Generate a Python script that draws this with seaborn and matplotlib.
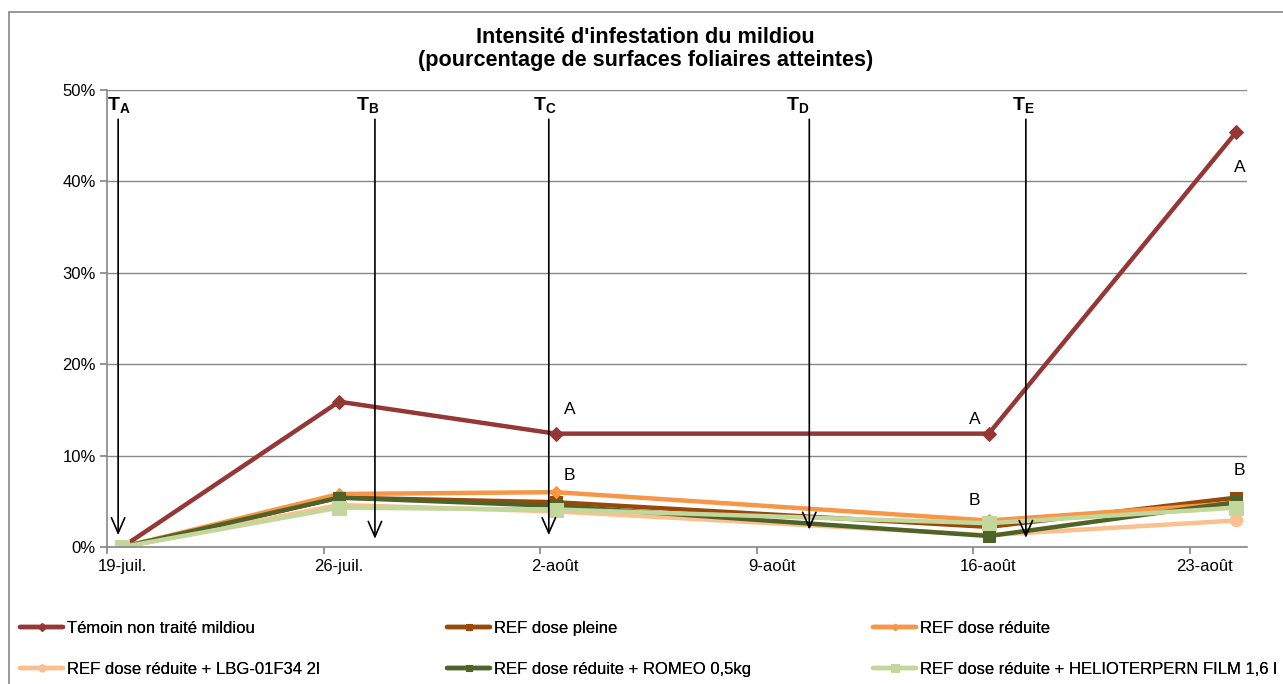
import pandas as pd
import matplotlib.pyplot as plt
import seaborn as sns
from matplotlib.patches import Rectangle
import matplotlib.transforms as mtransforms

sns.set_theme(style="white")
plt.rcParams['font.family'] = ['Liberation Sans', 'DejaVu Sans']
plt.rcParams['text.color'] = 'black'
plt.rcParams['xtick.color'] = 'black'
plt.rcParams['ytick.color'] = 'black'
plt.rcParams['mathtext.fontset'] = 'custom'
plt.rcParams['mathtext.rm'] = 'Liberation Sans'
plt.rcParams['mathtext.bf'] = 'Liberation Sans:bold'

# jours depuis le 19-juil. (Excel place les points au milieu du jour)
jours = [0.5, 7.5, 14.5, 28.5, 36.5]
tick_pos = [0, 7, 14, 21, 28, 35]
tick_labels = ["19-juil.", "26-juil.", "2-août", "9-août", "16-août", "23-août"]

temoin = [0.0, 15.9, 12.4, 12.4, 45.4]
ref_pleine = [0.0, 5.4, 4.9, 2.2, 5.4]
ref_reduite = [0.0, 5.8, 6.0, 2.9, 4.8]
ref_lbg = [0.0, 4.6, 3.9, 1.3, 2.9]
ref_romeo = [0.0, 5.4, 4.5, 1.2, 4.9]
ref_helio = [0.0, 4.3, 4.1, 2.6, 4.3]

noms = ["Témoin non traité mildiou", "REF dose pleine", "REF dose réduite",
        "REF dose réduite + LBG-01F34 2l", "REF dose réduite + ROMEO 0,5kg",
        "REF dose réduite + HELIOTERPERN FILM 1,6 l"]
series = [temoin, ref_pleine, ref_reduite, ref_lbg, ref_romeo, ref_helio]
couleurs = ["#953735", "#984807", "#F79646", "#FAC090", "#4F6228", "#C3D69B"]
marqueurs = ["D", "s", "D", "o", "s", "s"]
tailles = [7, 8, 6, 9, 9, 10]

# traitements (fleches)
traitements = ["A", "B", "C", "D", "E"]
trait_x = [0.36, 8.66, 14.28, 22.7, 29.7]
trait_lab_x = [0.39, 8.43, 14.15, 22.33, 29.63]
trait_fin = [1.3, 0.9, 1.3, 1.9, 1.0]

# lettres statistiques
lettres = ["A", "B", "A", "B", "A", "B"]
lettres_xy = [(14.96, 15.0), (14.96, 7.8), (28.05, 13.9), (28.05, 5.1), (36.6, 41.5), (36.6, 8.4)]

fig = plt.figure(figsize=(12.83, 6.84), dpi=100)
ax = fig.add_axes([0.0834, 0.2003, 0.8886, 0.6681])

for nom, vals, c, m, s in zip(noms, series, couleurs, marqueurs, tailles):
    df = pd.DataFrame({"jour": jours, "val": vals})
    sns.lineplot(data=df, x="jour", y="val", ax=ax, color=c, linewidth=3.2,
                 marker=m, markersize=s, markeredgecolor=c, label=nom)
handles, labels = ax.get_legend_handles_labels()
ax.get_legend().remove()

for t, x, xl, fin in zip(traitements, trait_x, trait_lab_x, trait_fin):
    ax.annotate("", xy=(x, fin), xytext=(x, 46.8),
                arrowprops=dict(arrowstyle="->, head_length=0.55, head_width=0.24",
                                color="black", lw=1.2, mutation_scale=20,
                                shrinkA=0, shrinkB=0))
    ax.text(xl, 47.3, r"$\mathbf{T_" + t + "}$", fontsize=14,
            ha="center", va="bottom")

for l, (x, y) in zip(lettres, lettres_xy):
    ax.text(x, y, l, fontsize=12.5, ha="center", va="center")

ax.set_xlim(0, 36.85)
ax.set_ylim(0, 50)
ax.set_xticks(tick_pos)
ax.set_xticklabels(tick_labels, fontsize=12)
ax.set_yticks([0, 10, 20, 30, 40, 50])
ax.set_yticklabels(["0%", "10%", "20%", "30%", "40%", "50%"], fontsize=12)
ax.tick_params(axis="x", direction="out", length=5, color="#888888", pad=4, bottom=True)
ax.tick_params(axis="y", direction="out", length=5, color="#888888", pad=3, left=True)
ax.yaxis.grid(True, color="#888888", linewidth=1)
ax.set_axisbelow(True)
for sp in ["top", "right"]:
    ax.spines[sp].set_visible(False)
for sp in ["left", "bottom"]:
    ax.spines[sp].set_color("#888888")
    ax.spines[sp].set_linewidth(1.2)
ax.set_xlabel("")
ax.set_ylabel("")

# decalage des etiquettes x (centrees sur le milieu du jour)
offset = mtransforms.ScaledTranslation(0.15, 0, fig.dpi_scale_trans)
for lab in ax.get_xticklabels():
    lab.set_transform(lab.get_transform() + offset)

fig.text(0.503, 1 - 49 / 684, "Intensité d'infestation du mildiou\n(pourcentage de surfaces foliaires atteintes)",
         fontsize=15.6, fontweight="bold", ha="center", va="center", linespacing=1.1)

# legende : trois colonnes placees comme dans Excel
col_x = [20, 447, 873]
for k in range(3):
    idx = [k, k + 3]
    leg = fig.legend([handles[i] for i in idx], [labels[i] for i in idx], ncol=1,
                     loc="center left", bbox_to_anchor=(col_x[k] / 1283, 1 - 649 / 684),
                     frameon=False, fontsize=12, handlelength=2.6, handletextpad=0.22,
                     labelspacing=1.55, markerscale=0.55, borderaxespad=0, borderpad=0)
    fig.add_artist(leg)

fig.patches.append(Rectangle((9 / 1283, -0.01), 1.05, 1 - 12 / 684 + 0.01, transform=fig.transFigure,
                             fill=False, edgecolor="#888888", linewidth=1.2))

plt.savefig("out.png", dpi=100)
